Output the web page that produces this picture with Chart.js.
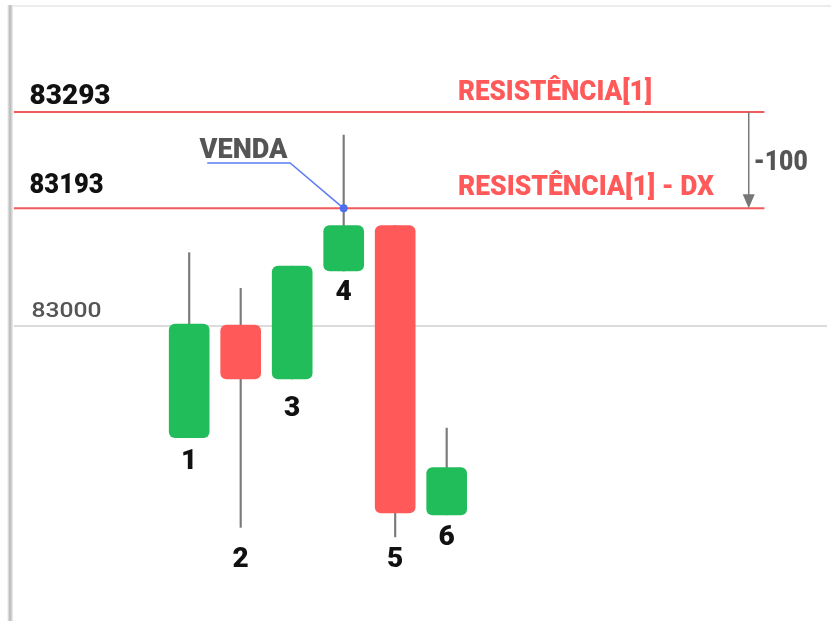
<!DOCTYPE html>
<html>
<head>
<meta charset="utf-8">
<script src="https://cdn.jsdelivr.net/npm/chart.js@4.4.1/dist/chart.umd.min.js"></script>
<style>
html,body{margin:0;padding:0;background:#fff;}
#wrap{position:relative;width:831px;height:621px;}
</style>
</head>
<body>
<div id="wrap"><canvas id="c"></canvas></div>
<script>
// ---------- data ----------
const candleLabels = ['1', '2', '3', '4', '5', '6'];
const candleSlots  = [1, 2, 3, 4, 5, 6];
const openPrices   = [82955, 83072, 83016, 83128, 83175, 82875];
const closePrices  = [83073, 83016, 83133, 83175, 82877, 82924];
const highPrices   = [83147, 83110, 83133, 83269, 83175, 82965];
const lowPrices    = [82955, 82862, 83016, 83128, 82852, 82875];

const resistanceLevel = 83293;
const dxOffset = 100;
const sellLevel = resistanceLevel - dxOffset;       // 83193
const refLevelText = '83000';
const refLevelPlotted = 83071;                      // the 83000 guide line is drawn "not to scale" in the original
const levelTexts = ['RESISTÊNCIA[1]', 'RESISTÊNCIA[1] - DX'];
const sellText = 'VENDA';
const dxText = '-' + dxOffset;
const sellCalloutLevel = 83240;                     // height of the VENDA callout leader

// ---------- derived datasets ----------
const green = '#22bd5b', red = '#ff5959';
const bodyData = candleSlots.map((s, i) => ({ x: s, y: [openPrices[i], closePrices[i]] }));
const wickData = candleSlots.map((s, i) => ({ x: s, y: [lowPrices[i], highPrices[i]] }));
const bodyColors = candleSlots.map((s, i) => closePrices[i] >= openPrices[i] ? green : red);

const X_MIN = -2.596, X_MAX = 13.385;
const LINE_LEFT = -2.404, LINE_RIGHT = 12.17;

const overlay = {
  id: 'overlay',
  beforeDraw(chart) {
    const ctx = chart.ctx;
    ctx.save();
    ctx.fillStyle = '#fff';
    ctx.fillRect(0, 0, chart.width, chart.height);
    ctx.fillStyle = '#ececec';
    ctx.fillRect(10, 5, chart.width - 10, 2);
    const g = ctx.createLinearGradient(7, 0, 13, 0);
    g.addColorStop(0, '#ffffff');
    g.addColorStop(0.5, '#b5b5b5');
    g.addColorStop(1, '#f0f0f0');
    ctx.fillStyle = g;
    ctx.fillRect(7, 5, 6, chart.height);
    ctx.restore();
  },
  afterDatasetsDraw(chart) {
    const ctx = chart.ctx, xs = chart.scales.x, ys = chart.scales.y;
    const X = v => xs.getPixelForValue(v), Y = v => ys.getPixelForValue(v);
    const fit = (text, x, y, font, color, w, align) => {
      ctx.save();
      ctx.font = font; ctx.fillStyle = color; ctx.textBaseline = 'alphabetic';
      ctx.textAlign = align || 'left';
      const m = ctx.measureText(text).width;
      const s = w ? w / m : 1;
      ctx.translate(x, y); ctx.scale(s, 1);
      ctx.fillText(text, 0, 0);
      ctx.restore();
    };
    const F = 'Roboto, "Open Sans", sans-serif';
    const B = '900 28px ' + F;
    // level labels on the left
    fit(String(resistanceLevel), X(-2.1), Y(resistanceLevel) - 8, B, '#111', 81);
    fit(String(sellLevel), X(-2.1), Y(sellLevel) - 15, B, '#111', 74);
    fit(refLevelText, X(-2.06), Y(refLevelPlotted) - 9, '500 21px ' + F, '#555', 70);
    // resistance names
    fit(levelTexts[0], X(6.22), Y(resistanceLevel) - 12, B, red, 194);
    fit(levelTexts[1], X(6.22), Y(sellLevel) - 13, B, red, 256);
    // -100 arrow
    const ax = X(11.865), ay0 = Y(resistanceLevel), ay1 = Y(sellLevel);
    ctx.save();
    ctx.strokeStyle = '#777'; ctx.fillStyle = '#777'; ctx.lineWidth = 1.5;
    ctx.beginPath(); ctx.moveTo(ax, ay0); ctx.lineTo(ax, ay1 - 12); ctx.stroke();
    ctx.beginPath(); ctx.moveTo(ax - 6, ay1 - 14); ctx.lineTo(ax + 6, ay1 - 14); ctx.lineTo(ax, ay1); ctx.closePath(); ctx.fill();
    ctx.restore();
    fit(dxText, ax + 5, (ay0 + ay1) / 2 + 10, B, '#555', 54);
    // VENDA
    fit(sellText, X(1.2), Y(sellCalloutLevel) - 5, B, '#555', 88);
    // candle numbers
    const gaps = [10, 19, 16, 8, 9, 9];
    candleLabels.forEach((t, i) => {
      fit(t, X(candleSlots[i]), Y(lowPrices[i]) + gaps[i] + 21, B, '#111', null, 'center');
    });
  }
};

new Chart(document.getElementById('c'), {
  type: 'bar',
  data: {
    datasets: [
      { type: 'line', label: 'ref', data: [{ x: LINE_LEFT, y: refLevelPlotted }, { x: X_MAX, y: refLevelPlotted }],
        borderColor: '#dcdcdc', borderWidth: 2, pointRadius: 0, order: 5 },
      { type: 'line', label: 'res', data: [{ x: LINE_LEFT, y: resistanceLevel }, { x: LINE_RIGHT, y: resistanceLevel }],
        borderColor: '#f05a5b', borderWidth: 2, pointRadius: 0, order: 4 },
      { type: 'line', label: 'resdx', data: [{ x: LINE_LEFT, y: sellLevel }, { x: LINE_RIGHT, y: sellLevel }],
        borderColor: '#f05a5b', borderWidth: 2, pointRadius: 0, order: 4 },
      { label: 'wick', data: wickData, backgroundColor: '#7a7a7a', barThickness: 1.5,
        grouped: false, borderSkipped: false, borderWidth: 0, order: 3 },
      { label: 'body', data: bodyData, backgroundColor: bodyColors, barThickness: 40,
        grouped: false, borderSkipped: false, borderWidth: 0, borderRadius: 6, order: 2 },
      { type: 'line', label: 'venda', data: [{ x: 1.35, y: sellCalloutLevel }, { x: 2.96, y: sellCalloutLevel }, { x: 4, y: sellLevel }],
        borderColor: '#5b7cf2', borderWidth: 1.5, pointRadius: [0, 0, 4], pointBackgroundColor: '#4f6ff0',
        pointBorderWidth: 0, order: 1, clip: false }
    ]
  },
  options: {
    responsive: true,
    maintainAspectRatio: false,
    animation: false,
    layout: { padding: 0 },
    plugins: { legend: { display: false }, tooltip: { enabled: false } },
    scales: {
      x: { type: 'linear', min: X_MIN, max: X_MAX, offset: false, display: false },
      y: { type: 'linear', min: 82769, max: 83405, display: false }
    }
  },
  plugins: [overlay]
});
</script>
</body>
</html>
